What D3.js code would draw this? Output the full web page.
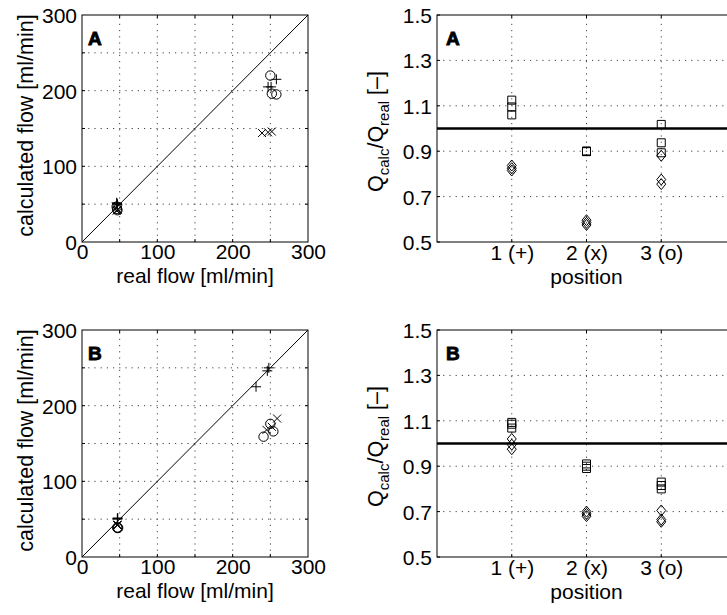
<!DOCTYPE html>
<html>
<head>
<meta charset="utf-8">
<script src="https://cdn.jsdelivr.net/npm/d3@7"></script>
<style>
  html, body { margin: 0; padding: 0; background: #fff; overflow: hidden; }
  svg { display: block; }
  text { font-family: "Liberation Sans", Arial, Helvetica, sans-serif; fill: #000; }
</style>
</head>
<body>
<script>
// ---------- data ----------
const flowTicks = [0, 100, 200, 300];
const flowGrid = [50, 100, 150, 200, 250];
const ratioTicks = [0.5, 0.7, 0.9, 1.1, 1.3, 1.5];
const ratioGrid = [0.7, 0.9, 1.1, 1.3];
const positions = [1, 2, 3];
const positionLabels = ["1 (+)", "2 (x)", "3 (o)"];
const panelNames = ["A", "B"];

// left panels: [real flow, calculated flow]
const plusA   = [[46, 51.8], [46.5, 50.9], [47, 49.8], [258, 215], [251, 205], [247, 205]];
const crossA  = [[46, 41.4], [47, 42.3], [47.5, 42.7], [239, 144], [247, 145], [252, 146]];
const circleA = [[46, 46.8], [46.5, 43.6], [47, 42], [250, 220], [252, 196], [258, 195]];

const plusB   = [[47, 51], [47.5, 51.5], [47, 50], [231, 225], [246, 246], [248, 250]];
const crossB  = [[47, 42.8], [47, 42.3], [47, 41.8], [259, 183], [245, 168], [252, 172]];
const circleB = [[47, 39], [47, 38.3], [48, 38.4], [250, 176], [254, 166], [241, 159]];

// right panels: Qcalc/Qreal per position (squares = low flow, diamonds = high flow)
const squaresA  = [[1.125, 1.095, 1.06], [0.901, 0.899, 0.898], [1.018, 0.937, 0.893]];
const diamondsA = [[0.837, 0.825, 0.815], [0.596, 0.585, 0.575], [0.88, 0.775, 0.755]];
const squaresB  = [[1.093, 1.085, 1.068], [0.91, 0.90, 0.89], [0.83, 0.815, 0.80]];
const diamondsB = [[1.02, 0.995, 0.975], [0.70, 0.69, 0.68], [0.705, 0.665, 0.655]];

const refRatio = 1.0;

// ---------- drawing ----------
const W = 727, H = 615;
const svg = d3.select("body").append("svg").attr("width", W).attr("height", H);

const FS = 21;
const gridDash = "1.2,5";
const gridColor = "#444";

const mk = {
  plus: (r) => `M${-r},0H${r}M0,${-r}V${r}`,
  cross: (r) => `M${-r},${-r}L${r},${r}M${-r},${r}L${r},${-r}`,
  square: (r) => `M${-r},${-r}H${r}V${r}H${-r}Z`,
  diamond: (w, h) => `M0,${-h}L${w},0L0,${h}L${-w},0Z`
};

function flowPanel(top, name, plus, cross, circle) {
  const x = d3.scaleLinear().domain([0, 300]).range([82, 308]);
  const y = d3.scaleLinear().domain([0, 300]).range([top + 227, top]);
  const g = svg.append("g");

  g.selectAll(".gx").data(flowGrid).join("line")
    .attr("x1", d => x(d)).attr("x2", d => x(d)).attr("y1", y(0)).attr("y2", y(300))
    .attr("stroke", gridColor).attr("stroke-dasharray", gridDash);
  g.selectAll(".gy").data(flowGrid).join("line")
    .attr("y1", d => y(d)).attr("y2", d => y(d)).attr("x1", x(0)).attr("x2", x(300))
    .attr("stroke", gridColor).attr("stroke-dasharray", gridDash);

  const xa = g.append("g").attr("transform", `translate(0,${y(0)})`)
    .call(d3.axisBottom(x).tickValues(flowTicks).tickSize(0).tickPadding(0));
  xa.select(".domain").remove();
  xa.selectAll("text").attr("font-size", FS).attr("dy", null).attr("y", 17)
    .attr("font-family", "Liberation Sans, Arial, sans-serif");
  const ya = g.append("g").attr("transform", `translate(${x(0)},0)`)
    .call(d3.axisLeft(y).tickValues(flowTicks).tickSize(0).tickPadding(5));
  ya.select(".domain").remove();
  ya.selectAll("text").attr("font-size", FS).attr("dy", "0.36em")
    .attr("font-family", "Liberation Sans, Arial, sans-serif");

  flowGrid.forEach(v => {
    g.append("line").attr("x1", x(v)).attr("x2", x(v)).attr("y1", y(0)).attr("y2", y(0) - 3).attr("stroke", "#000");
    g.append("line").attr("x1", x(v)).attr("x2", x(v)).attr("y1", y(300)).attr("y2", y(300) + 3).attr("stroke", "#000");
    g.append("line").attr("y1", y(v)).attr("y2", y(v)).attr("x1", x(0)).attr("x2", x(0) + 3).attr("stroke", "#000");
    g.append("line").attr("y1", y(v)).attr("y2", y(v)).attr("x1", x(300)).attr("x2", x(300) - 3).attr("stroke", "#000");
  });

  g.append("rect").attr("x", x(0)).attr("y", y(300)).attr("width", x(300) - x(0)).attr("height", y(0) - y(300))
    .attr("fill", "none").attr("stroke", "#000").attr("stroke-width", 1);

  g.append("line").attr("x1", x(0)).attr("y1", y(0)).attr("x2", x(300)).attr("y2", y(300))
    .attr("stroke", "#000").attr("stroke-width", 1);

  g.selectAll(".p").data(plus).join("path")
    .attr("transform", d => `translate(${x(d[0])},${y(d[1])})`).attr("d", mk.plus(5))
    .attr("stroke", "#000").attr("fill", "none");
  g.selectAll(".c").data(cross).join("path")
    .attr("transform", d => `translate(${x(d[0])},${y(d[1])})`).attr("d", mk.cross(4))
    .attr("stroke", "#000").attr("fill", "none");
  g.selectAll(".o").data(circle).join("circle")
    .attr("cx", d => x(d[0])).attr("cy", d => y(d[1])).attr("r", 4.7)
    .attr("stroke", "#000").attr("fill", "none");

  g.append("text").attr("x", (x(0) + x(300)) / 2).attr("y", y(0) + 41)
    .attr("text-anchor", "middle").attr("font-size", FS).text("real flow [ml/min]");
  g.append("text").attr("transform", `translate(33,${(y(0) + y(300)) / 2 - 3}) rotate(-90)`)
    .attr("text-anchor", "middle").attr("font-size", FS + 0.5).text("calculated flow [ml/min]");
  g.append("text").attr("x", 88).attr("y", y(300) + 30).attr("font-size", 19).attr("font-weight", "bold")
    .attr("stroke", "#000").attr("stroke-width", 0.9).text(name);
}

function ratioPanel(top, name, squares, diamonds) {
  const x = d3.scaleLinear().domain([0, 4]).range([437, 736]);
  const y = d3.scaleLinear().domain([0.5, 1.5]).range([top + 227, top]);
  const g = svg.append("g");

  g.selectAll(".gx").data(positions).join("line")
    .attr("x1", d => x(d)).attr("x2", d => x(d)).attr("y1", y(0.5)).attr("y2", y(1.5))
    .attr("stroke", gridColor).attr("stroke-dasharray", gridDash);
  g.selectAll(".gy").data(ratioGrid).join("line")
    .attr("y1", d => y(d)).attr("y2", d => y(d)).attr("x1", x(0)).attr("x2", x(4))
    .attr("stroke", gridColor).attr("stroke-dasharray", gridDash);

  const xa = g.append("g").attr("transform", `translate(0,${y(0.5)})`)
    .call(d3.axisBottom(x).tickValues(positions).tickFormat((d, i) => positionLabels[i]).tickSize(0).tickPadding(0));
  xa.select(".domain").remove();
  xa.selectAll("text").attr("font-size", FS).attr("dy", null).attr("y", 18)
    .attr("font-family", "Liberation Sans, Arial, sans-serif");
  const ya = g.append("g").attr("transform", `translate(${x(0)},0)`)
    .call(d3.axisLeft(y).tickValues(ratioTicks).tickFormat(d3.format(".1f")).tickSize(0).tickPadding(5));
  ya.select(".domain").remove();
  ya.selectAll("text").attr("font-size", FS).attr("dy", "0.36em")
    .attr("font-family", "Liberation Sans, Arial, sans-serif");

  positions.forEach(v => {
    g.append("line").attr("x1", x(v)).attr("x2", x(v)).attr("y1", y(0.5)).attr("y2", y(0.5) - 3).attr("stroke", "#000");
    g.append("line").attr("x1", x(v)).attr("x2", x(v)).attr("y1", y(1.5)).attr("y2", y(1.5) + 3).attr("stroke", "#000");
  });
  ratioTicks.forEach(v => {
    g.append("line").attr("y1", y(v)).attr("y2", y(v)).attr("x1", x(0)).attr("x2", x(0) + 3).attr("stroke", "#000");
  });

  g.append("rect").attr("x", x(0)).attr("y", y(1.5)).attr("width", x(4) - x(0)).attr("height", y(0.5) - y(1.5))
    .attr("fill", "none").attr("stroke", "#000").attr("stroke-width", 1);

  g.append("line").attr("x1", x(0)).attr("x2", x(4)).attr("y1", y(refRatio)).attr("y2", y(refRatio))
    .attr("stroke", "#000").attr("stroke-width", 2.6);

  const sq = [], di = [];
  positions.forEach((p, i) => {
    squares[i].forEach(v => sq.push([p, v]));
    diamonds[i].forEach(v => di.push([p, v]));
  });
  g.selectAll(".s").data(sq).join("path")
    .attr("transform", d => `translate(${x(d[0])},${y(d[1])})`).attr("d", mk.square(4))
    .attr("stroke", "#000").attr("fill", "none");
  g.selectAll(".d").data(di).join("path")
    .attr("transform", d => `translate(${x(d[0])},${y(d[1])})`).attr("d", mk.diamond(4.5, 5.5))
    .attr("stroke", "#000").attr("fill", "none");

  g.append("text").attr("x", x(2)).attr("y", y(0.5) + 42)
    .attr("text-anchor", "middle").attr("font-size", FS).text("position");

  const yl = g.append("text").attr("transform", `translate(383,${(y(0.5) + y(1.5)) / 2 + 3}) rotate(-90)`)
    .attr("text-anchor", "middle").attr("font-size", FS + 0.5);
  yl.append("tspan").text("Q");
  yl.append("tspan").attr("font-size", 15).attr("dy", 6).text("calc");
  yl.append("tspan").attr("dy", -6).text("/Q");
  yl.append("tspan").attr("font-size", 15).attr("dy", 6).text("real");
  yl.append("tspan").attr("dy", -6).text(" [–]");

  g.append("text").attr("x", 446).attr("y", y(1.5) + 30).attr("font-size", 19).attr("font-weight", "bold")
    .attr("stroke", "#000").attr("stroke-width", 0.9).text(name);
}

flowPanel(15, panelNames[0], plusA, crossA, circleA);
ratioPanel(15, panelNames[0], squaresA, diamondsA);
flowPanel(330, panelNames[1], plusB, crossB, circleB);
ratioPanel(330, panelNames[1], squaresB, diamondsB);
</script>
</body>
</html>
